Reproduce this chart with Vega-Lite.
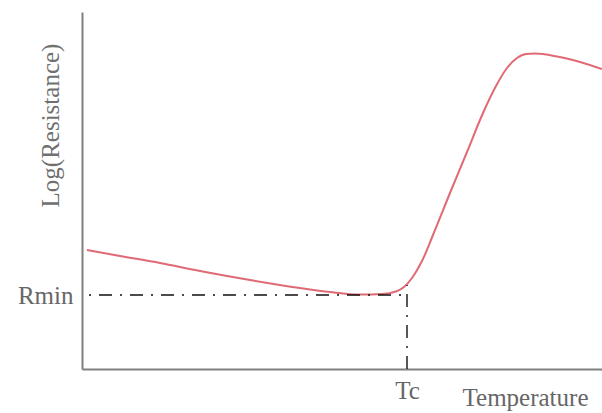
{
  "$schema": "https://vega.github.io/schema/vega-lite/v6.json",
  "width": 520,
  "height": 357,
  "autosize": "none",
  "padding": {"left": 82, "top": 12, "right": 0, "bottom": 44},
  "background": "white",
  "config": {"view": {"stroke": null}},
  "layer": [
    {
      "data": {"values": [
        {"T": 5, "R": 119}, {"T": 38, "R": 113}, {"T": 78, "R": 106}, {"T": 118, "R": 98},
        {"T": 168, "R": 89}, {"T": 218, "R": 81}, {"T": 248, "R": 77}, {"T": 278, "R": 74.5},
        {"T": 300, "R": 75}, {"T": 314, "R": 77.5}, {"T": 322, "R": 82}, {"T": 330, "R": 91},
        {"T": 340, "R": 108}, {"T": 351, "R": 134}, {"T": 368, "R": 176}, {"T": 385, "R": 217},
        {"T": 401, "R": 256}, {"T": 414, "R": 283}, {"T": 425, "R": 301}, {"T": 435, "R": 311},
        {"T": 444, "R": 315}, {"T": 453, "R": 315.5}, {"T": 475, "R": 312.5}, {"T": 498, "R": 307},
        {"T": 520, "R": 300}
      ]},
      "mark": {"type": "line", "interpolate": "monotone", "color": "#e06a74", "strokeWidth": 2},
      "encoding": {
        "x": {"field": "T", "type": "quantitative",
          "scale": {"domain": [0, 520], "nice": false, "zero": false},
          "axis": {"values": [325], "labelExpr": "'Tc'", "ticks": false, "grid": false,
            "domainColor": "#808080", "domainWidth": 2, "labelPadding": 9,
            "labelFont": "Liberation Serif", "labelFontSize": 25, "labelColor": "#666666",
            "title": "Temperature", "titleFont": "Liberation Serif", "titleFontSize": 25,
            "titleFontWeight": "normal", "titleColor": "#666666",
            "titleX": 443, "titleY": 28, "titleAlign": "center", "titleBaseline": "middle"}},
        "y": {"field": "R", "type": "quantitative",
          "scale": {"domain": [0, 357], "nice": false, "zero": false},
          "axis": {"values": [74], "labelExpr": "'Rmin'", "ticks": false, "grid": false,
            "domainColor": "#808080", "domainWidth": 2, "labelPadding": 9,
            "labelFont": "Liberation Serif", "labelFontSize": 25, "labelColor": "#666666",
            "title": "Log(Resistance)", "titleFont": "Liberation Serif", "titleFontSize": 25,
            "titleFontWeight": "normal", "titleColor": "#707070",
            "titleX": -32, "titleY": 113, "titleAlign": "center", "titleBaseline": "middle"}}
      }
    },
    {
      "data": {"values": [{"T": 0, "T2": 325, "R": 74}]},
      "mark": {"type": "rule", "color": "#111111", "strokeWidth": 1.4, "strokeDash": [13, 8, 2, 8], "strokeDashOffset": 14},
      "encoding": {
        "x": {"field": "T", "type": "quantitative"},
        "x2": {"field": "T2"},
        "y": {"field": "R", "type": "quantitative"}
      }
    },
    {
      "data": {"values": [{"T": 325, "R": 0, "R2": 84}]},
      "mark": {"type": "rule", "color": "#111111", "strokeWidth": 1.4, "strokeDash": [13, 8, 2, 8]},
      "encoding": {
        "x": {"field": "T", "type": "quantitative"},
        "y": {"field": "R", "type": "quantitative"},
        "y2": {"field": "R2"}
      }
    }
  ]
}
